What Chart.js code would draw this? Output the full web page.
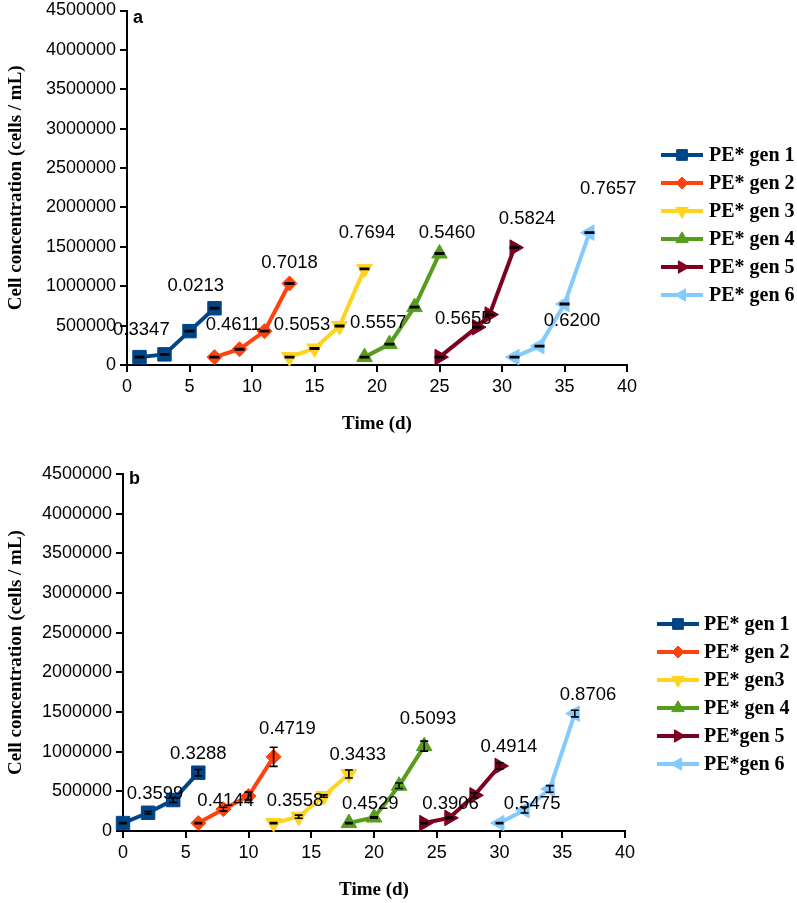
<!DOCTYPE html>
<html><head><meta charset="utf-8">
<script src="https://cdn.jsdelivr.net/npm/chart.js@4/dist/chart.umd.min.js"></script>
<style>html,body{margin:0;padding:0;background:#fff;} canvas{display:block;}</style>
</head><body>
<canvas id="ca" width="797" height="451"></canvas>
<canvas id="cb" width="797" height="452"></canvas>
<script>
// ---------- styling per series ----------
const seriesColors = ['#004586','#ff420e','#ffd320','#579d1c','#7e0021','#83caff'];
const pointStyles = ['rect','rectRot','triangle','triangle','triangle','triangle'];
const pointRotations = [0,0,180,0,90,270];
const pointRadii = [9.5,7.5,9,9,9,9];

// ---------- panel a data ----------
const aLegend = ['PE* gen 1','PE* gen 2','PE* gen 3','PE* gen 4','PE* gen 5','PE* gen 6'];
const aGen1Days = [1,3,5,7];     const aGen1Cells = [100000,135000,430000,720000];
const aGen2Days = [7,9,11,13];   const aGen2Cells = [100000,200000,430000,1035000];
const aGen3Days = [13,15,17,19]; const aGen3Cells = [100000,210000,495000,1220000];
const aGen4Days = [19,21,23,25]; const aGen4Cells = [100000,265000,735000,1415000];
const aGen5Days = [25,28,29,31]; const aGen5Cells = [100000,480000,640000,1490000];
const aGen6Days = [31,33,35,37]; const aGen6Cells = [100000,240000,775000,1680000];
const aErr = [8000,8000,8000,8000];
const aLabelText = ['0.3347','0.0213','0.4611','0.7018','0.5053','0.7694','0.5557','0.5460','0.5655','0.5824','0.6200','0.7657'];
const aLabelX = [1.15,5.5,8.5,13.0,14.0,19.2,20.1,25.6,26.9,32.0,35.6,38.5];
const aLabelY = [441000,1008000,504000,1297000,504000,1675000,529000,1675000,579000,1851000,554000,2229000];

// ---------- panel b data ----------
const bLegend = ['PE* gen 1','PE* gen 2','PE* gen3','PE* gen 4','PE*gen 5','PE*gen 6'];
const bGen1Days = [0,2,4,6];     const bGen1Cells = [100000,230000,390000,735000];  const bGen1Err = [8000,15000,30000,40000];
const bGen2Days = [6,8,10,12];   const bGen2Cells = [100000,275000,440000,935000];  const bGen2Err = [8000,25000,50000,120000];
const bGen3Days = [12,14,16,18]; const bGen3Cells = [100000,180000,440000,718000];  const bGen3Err = [8000,20000,15000,50000];
const bGen4Days = [18,20,22,24]; const bGen4Cells = [100000,170000,570000,1070000]; const bGen4Err = [8000,10000,35000,63000];
const bGen5Days = [24,26,28,30]; const bGen5Cells = [100000,165000,450000,820000];  const bGen5Err = [8000,10000,30000,40000];
const bGen6Days = [30,32,34,36]; const bGen6Cells = [100000,265000,530000,1480000]; const bGen6Err = [8000,38000,42000,42000];
const bLabelText = ['0.3599','0.3288','0.4144','0.4719','0.3558','0.3433','0.4529','0.5093','0.3906','0.4914','0.5475','0.8706'];
const bLabelX = [2.55,6.0,8.18,13.1,13.7,18.7,19.7,24.3,26.1,30.75,32.6,37.05];
const bLabelY = [466000,970000,382000,1285000,382000,957000,340000,1411000,340000,1054000,340000,1713000];

const yTicks = [0,500000,1000000,1500000,2000000,2500000,3000000,3500000,4000000,4500000];
const xTicks = [0,5,10,15,20,25,30,35,40];

function makeDataset(i, label, days, cells, errs) {
  return {
    label: label,
    data: days.map((d, k) => ({x: d, y: cells[k]})),
    errors: errs,
    borderColor: seriesColors[i],
    backgroundColor: seriesColors[i],
    borderWidth: 4,
    pointStyle: pointStyles[i],
    pointRotation: pointRotations[i],
    pointRadius: pointRadii[i],
    pointBorderWidth: 1,
    pointHoverRadius: pointRadii[i],
    tension: 0,
    clip: false,
    fill: false
  };
}

function drawMarker(ctx, style, rot, r, x, y, color) {
  ctx.save();
  ctx.fillStyle = color; ctx.strokeStyle = color; ctx.lineWidth = 1;
  if (Chart.helpers && Chart.helpers.drawPoint) {
    Chart.helpers.drawPoint(ctx, {pointStyle: style, rotation: rot, radius: r, borderWidth: 1}, x, y);
  } else {
    ctx.beginPath(); ctx.arc(x, y, r, 0, Math.PI*2); ctx.fill();
  }
  ctx.restore();
}

const errorBarPlugin = {
  id: 'errorBars',
  afterDatasetsDraw(chart) {
    const ctx = chart.ctx, ys = chart.scales.y, xs = chart.scales.x;
    const cap = chart.options.plugins.errorBars.cap;
    ctx.save();
    ctx.strokeStyle = '#000'; ctx.lineWidth = 1.6;
    chart.data.datasets.forEach(ds => {
      ds.data.forEach((p, k) => {
        const e = ds.errors[k];
        const px = xs.getPixelForValue(p.x);
        const yTop = ys.getPixelForValue(p.y + e), yBot = ys.getPixelForValue(p.y - e);
        ctx.beginPath();
        ctx.moveTo(px, yTop); ctx.lineTo(px, yBot);
        ctx.moveTo(px - cap, yTop); ctx.lineTo(px + cap, yTop);
        ctx.moveTo(px - cap, yBot); ctx.lineTo(px + cap, yBot);
        ctx.stroke();
      });
    });
    ctx.restore();
  }
};

const valueLabelPlugin = {
  id: 'valueLabels',
  afterDatasetsDraw(chart) {
    const o = chart.options.plugins.valueLabels;
    const ctx = chart.ctx, xs = chart.scales.x, ys = chart.scales.y;
    ctx.save();
    ctx.font = '18.5px "Liberation Sans", Arial, sans-serif';
    ctx.fillStyle = '#000'; ctx.textAlign = 'center'; ctx.textBaseline = 'middle';
    o.texts.forEach((t, k) => {
      ctx.fillText(t, xs.getPixelForValue(o.xs[k]), ys.getPixelForValue(o.ys[k]));
    });
    // panel letter
    ctx.font = 'bold 18px "Liberation Sans", Arial, sans-serif';
    ctx.textAlign = 'left'; ctx.textBaseline = 'alphabetic';
    ctx.fillText(o.letter, chart.chartArea.left + o.letterDx, chart.chartArea.top + o.letterDy);
    ctx.restore();
  }
};

const sideLegendPlugin = {
  id: 'sideLegend',
  afterDraw(chart) {
    const o = chart.options.plugins.sideLegend;
    const ctx = chart.ctx;
    ctx.save();
    chart.data.datasets.forEach((ds, i) => {
      const y = o.y0 + o.step * i;
      ctx.strokeStyle = ds.borderColor; ctx.lineWidth = 4;
      ctx.beginPath(); ctx.moveTo(o.x0, y); ctx.lineTo(o.x0 + 42, y); ctx.stroke();
      drawMarker(ctx, ds.pointStyle, ds.pointRotation, ds.pointRadius * 0.8, o.x0 + 21, y, ds.borderColor);
      ctx.fillStyle = '#000';
      ctx.font = 'bold 20px "Liberation Serif", "Times New Roman", serif';
      ctx.textAlign = 'left'; ctx.textBaseline = 'middle';
      ctx.fillText(ds.label, o.textX, y + 1);
    });
    ctx.restore();
  }
};

function makeOptions(p) {
  return {
    responsive: false,
    animation: false,
    events: [],
    layout: {padding: {left: 0, right: p.right, top: p.top, bottom: p.bottom}},
    plugins: {
      legend: {display: false},
      tooltip: {enabled: false},
      errorBars: {cap: p.cap},
      valueLabels: {texts: p.texts, xs: p.xs, ys: p.ys, letter: p.letter, letterDx: p.letterDx, letterDy: p.letterDy},
      sideLegend: {x0: p.legX, textX: p.legTextX, y0: p.legY, step: 28}
    },
    scales: {
      x: {
        type: 'linear', min: 0, max: 40,
        afterBuildTicks: s => { s.ticks = xTicks.map(v => ({value: v})); },
        ticks: {callback: v => String(v), color: '#000', padding: 4, maxRotation: 0, autoSkip: false,
                font: {family: '"Liberation Sans", Arial, sans-serif', size: 18}},
        grid: {drawOnChartArea: false, color: '#000', lineWidth: 2, tickLength: 7},
        border: {color: '#000', width: 2},
        title: {display: true, text: 'Time (d)', color: '#000', padding: {top: 0, bottom: 0},
                font: {family: '"Liberation Serif", "Times New Roman", serif', size: 19, weight: 'bold'}},
        afterFit: s => { s.height = 70; s.paddingLeft = 0; s.paddingRight = 0; }
      },
      y: {
        type: 'linear', min: 0, max: 4500000,
        afterBuildTicks: s => { s.ticks = yTicks.map(v => ({value: v})); },
        ticks: {callback: v => String(v), color: '#000', padding: 4, autoSkip: false,
                font: {family: '"Liberation Sans", Arial, sans-serif', size: 18}},
        grid: {drawOnChartArea: false, color: '#000', lineWidth: 2, tickLength: 7},
        border: {color: '#000', width: 2},
        title: {display: true, text: 'Cell concentration (cells / mL)', color: '#000', padding: {top: 5, bottom: 0},
                font: {family: '"Liberation Serif", "Times New Roman", serif', size: 19, weight: 'bold'}},
        afterFit: s => { s.width = p.yWidth; s.paddingTop = 0; s.paddingBottom = 0; }
      }
    }
  };
}

new Chart(document.getElementById('ca'), {
  type: 'line',
  data: {datasets: [
    makeDataset(0, aLegend[0], aGen1Days, aGen1Cells, aErr),
    makeDataset(1, aLegend[1], aGen2Days, aGen2Cells, aErr),
    makeDataset(2, aLegend[2], aGen3Days, aGen3Cells, aErr),
    makeDataset(3, aLegend[3], aGen4Days, aGen4Cells, aErr),
    makeDataset(4, aLegend[4], aGen5Days, aGen5Cells, aErr),
    makeDataset(5, aLegend[5], aGen6Days, aGen6Cells, aErr)
  ]},
  options: makeOptions({right: 170, top: 8, bottom: 16, yWidth: 127, cap: 5,
    texts: aLabelText, xs: aLabelX, ys: aLabelY, letter: 'a', letterDx: 6, letterDy: 12,
    legX: 661, legTextX: 709, legY: 155}),
  plugins: [errorBarPlugin, valueLabelPlugin, sideLegendPlugin]
});

new Chart(document.getElementById('cb'), {
  type: 'line',
  data: {datasets: [
    makeDataset(0, bLegend[0], bGen1Days, bGen1Cells, bGen1Err),
    makeDataset(1, bLegend[1], bGen2Days, bGen2Cells, bGen2Err),
    makeDataset(2, bLegend[2], bGen3Days, bGen3Cells, bGen3Err),
    makeDataset(3, bLegend[3], bGen4Days, bGen4Cells, bGen4Err),
    makeDataset(4, bLegend[4], bGen5Days, bGen5Cells, bGen5Err),
    makeDataset(5, bLegend[5], bGen6Days, bGen6Cells, bGen6Err)
  ]},
  options: makeOptions({right: 172, top: 23, bottom: 2, yWidth: 123, cap: 4,
    texts: bLabelText, xs: bLabelX, ys: bLabelY, letter: 'b', letterDx: 6, letterDy: 10,
    legX: 657, legTextX: 704, legY: 173}),
  plugins: [errorBarPlugin, valueLabelPlugin, sideLegendPlugin]
});
</script>
</body></html>
